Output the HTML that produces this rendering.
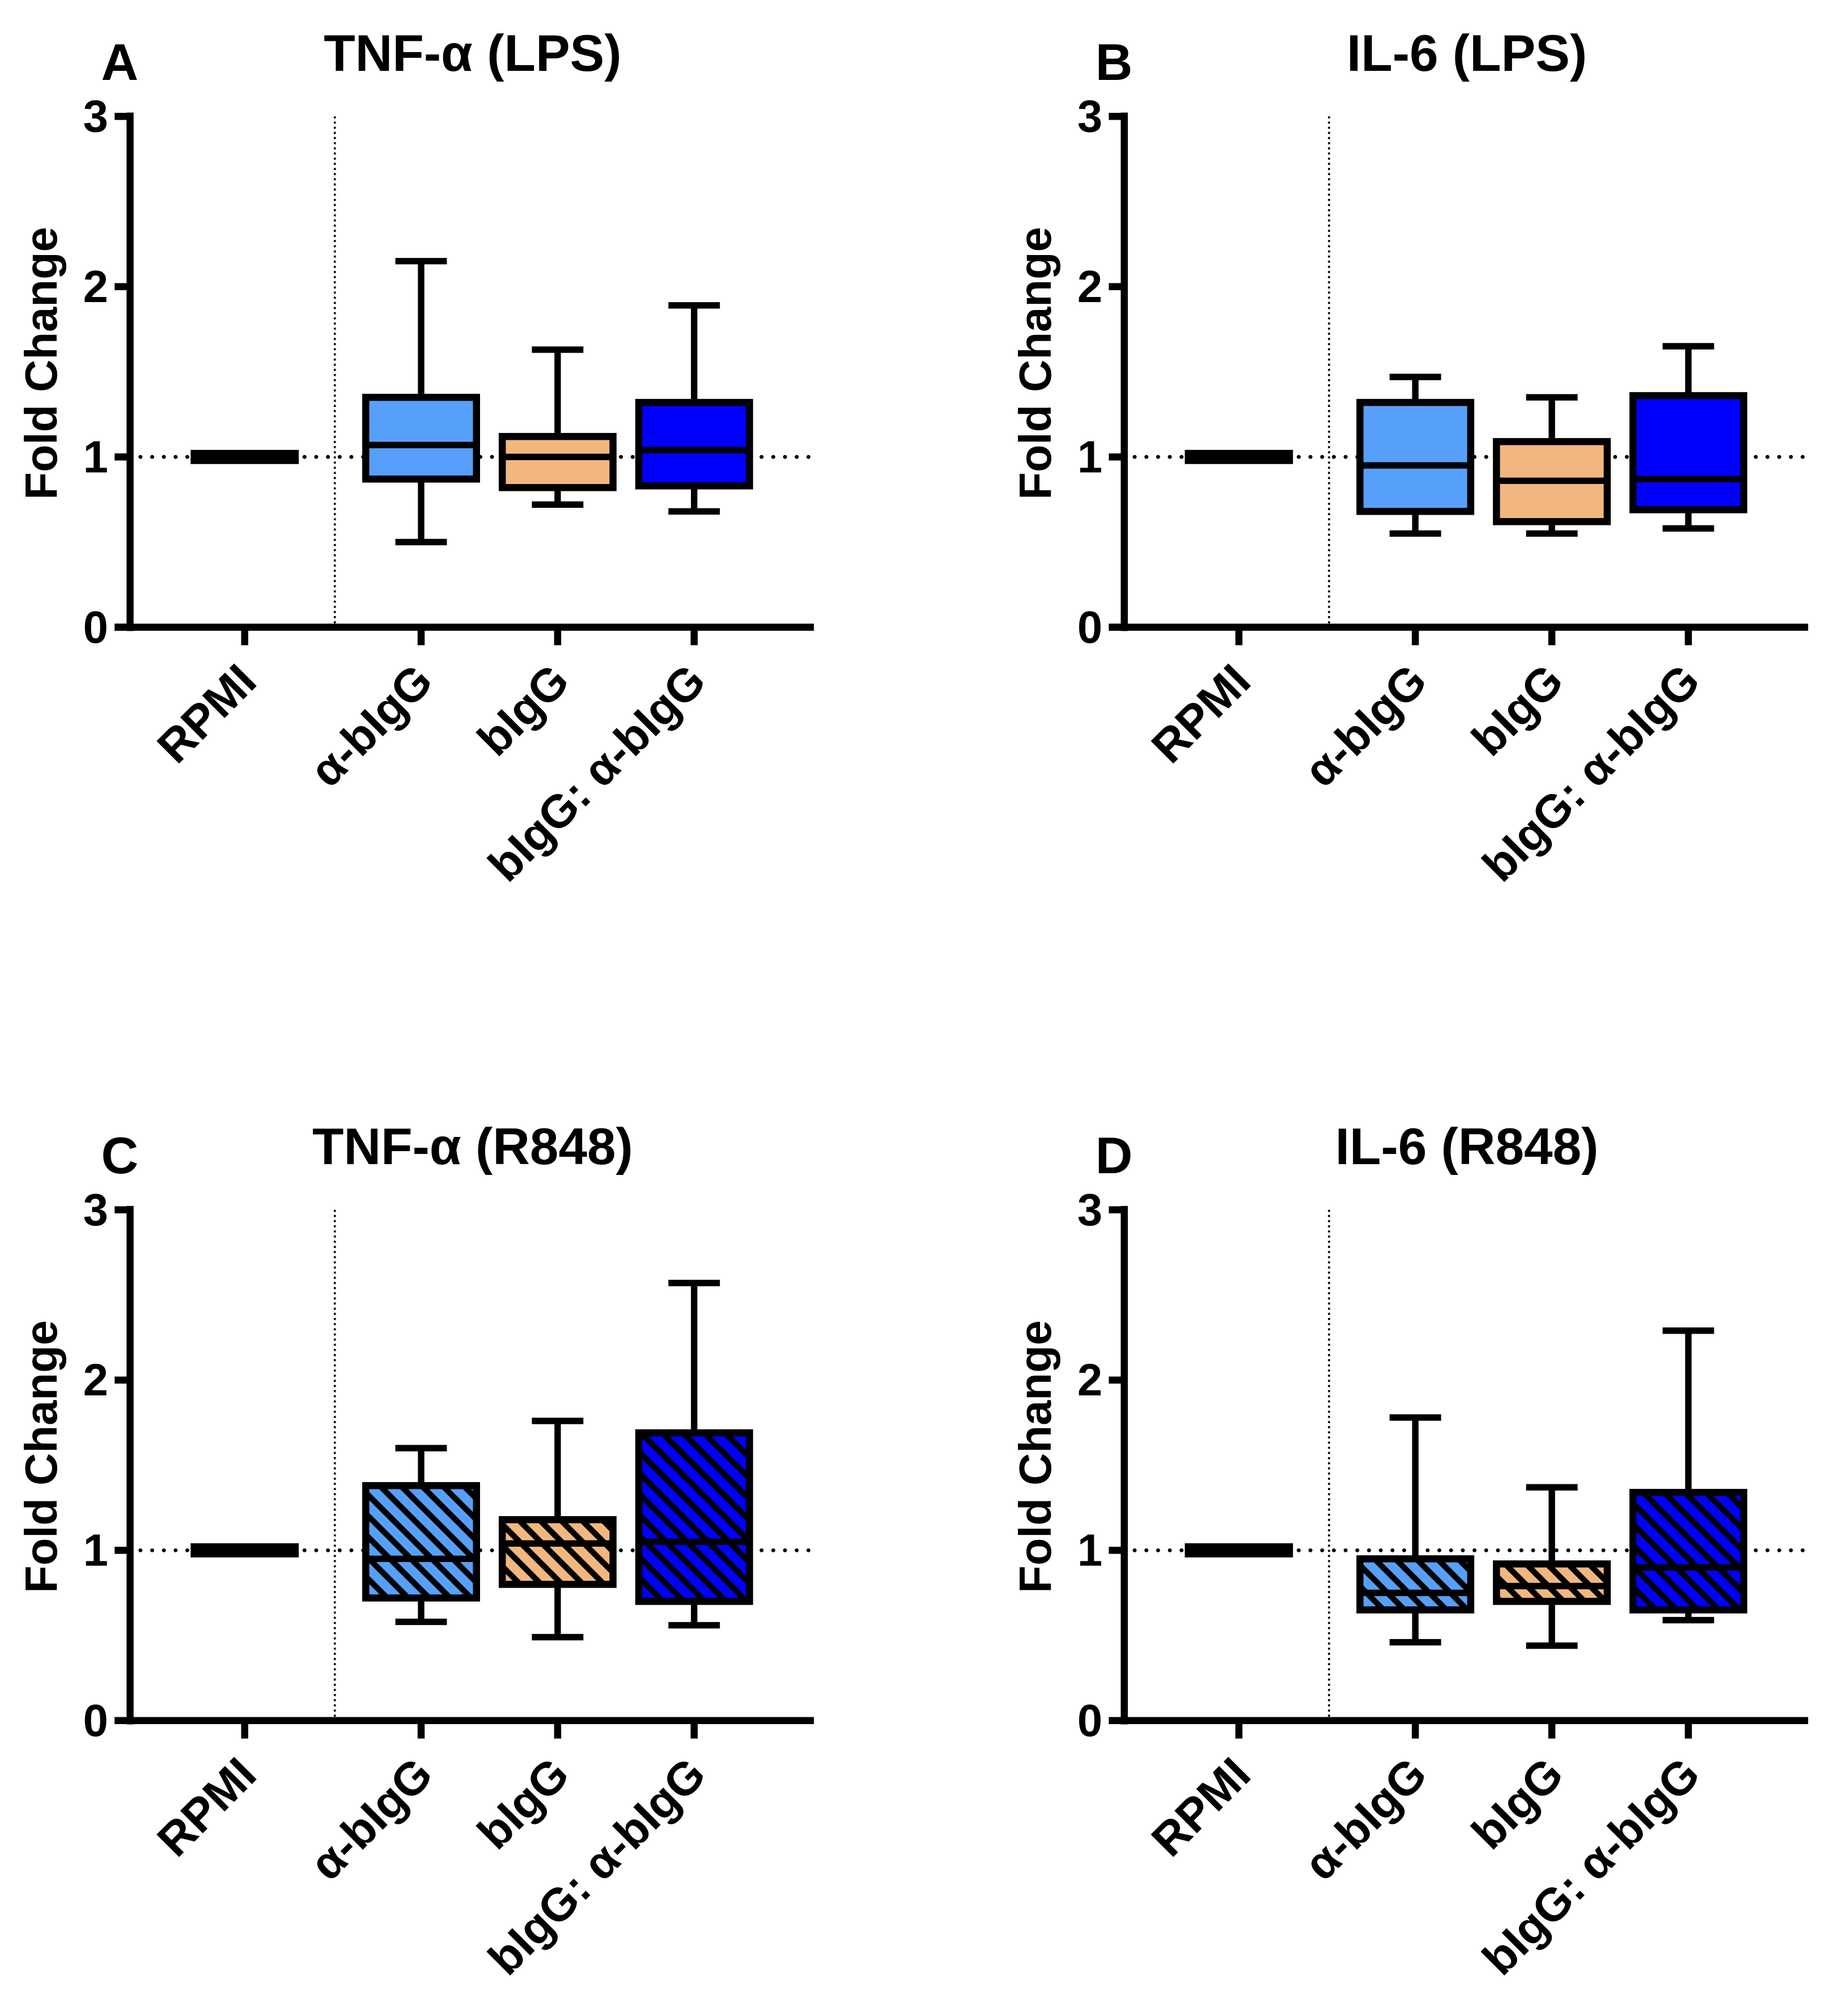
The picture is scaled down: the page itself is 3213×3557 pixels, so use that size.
<!DOCTYPE html>
<html><head><meta charset="utf-8">
<style>
html,body{margin:0;padding:0;background:#fff;}
svg{display:block;}
text{font-family:"Liberation Sans",Arial,sans-serif;font-weight:bold;fill:#000;}
</style></head>
<body>
<svg id="fig" width="3213" height="3557" viewBox="0 0 1414 1565.4" preserveAspectRatio="none" xmlns="http://www.w3.org/2000/svg">
<defs>
<pattern id="hatch" patternUnits="userSpaceOnUse" width="11.5" height="11.5" patternTransform="rotate(-45)">
<rect x="0" y="0" width="4.5" height="11.5" fill="#000"/>
</pattern>
</defs>
</svg>
<script>
const categories = ["RPMI","α-bIgG","bIgG","bIgG: α-bIgG"];
const panelTitles = ["TNF-α (LPS)","IL-6 (LPS)","TNF-α (R848)","IL-6 (R848)"];
const panelLetters = ["A","B","C","D"];
const yTicks = [0,1,2,3];
// [min, q1, median, q3, max] per treatment group (excluding RPMI = 1)
const statsA = [[0.50,0.87,1.07,1.35,2.15],[0.72,0.82,1.00,1.12,1.63],[0.68,0.83,1.04,1.32,1.89]];
const statsB = [[0.55,0.68,0.95,1.32,1.47],[0.55,0.62,0.86,1.09,1.35],[0.58,0.69,0.87,1.36,1.65]];
const statsC = [[0.58,0.72,0.95,1.38,1.60],[0.49,0.80,1.04,1.18,1.76],[0.56,0.70,1.05,1.69,2.57]];
const statsD = [[0.46,0.65,0.75,0.95,1.78],[0.44,0.70,0.79,0.92,1.37],[0.59,0.65,0.90,1.34,2.29]];
const rpmiValue = [1,1,1,1];
const colors = ["#56a0fb","#f2b77f","#0000ff"];

const svg = document.getElementById('fig');
const NS = "http://www.w3.org/2000/svg";
function mk(tag, attrs, parent){const e=document.createElementNS(NS,tag);for(const k in attrs)e.setAttribute(k,attrs[k]);(parent||svg).appendChild(e);return e;}

const panels = [
 {x0:101,y0:487,stats:statsA,hatch:false},
 {x0:873,y0:487,stats:statsB,hatch:false},
 {x0:101,y0:1336,stats:statsC,hatch:true},
 {x0:873,y0:1336,stats:statsD,hatch:true}
];
const unit = 132.2;
const catOff = [89,226,332,438];

panels.forEach((p,pi)=>{
  const g = mk('g',{});
  
  
  const Y = v => p.y0 - v*unit;
  const X = i => p.x0 + catOff[i];
  const hl = mk('line',{x1:p.x0+8,x2:p.x0+530,y1:Y(1),y2:Y(1),stroke:'#000','stroke-width':3,'stroke-dasharray':'0.1 9','stroke-linecap':'round'},g);
  
  
  const vl = mk('line',{x1:p.x0+159,x2:p.x0+159,y1:Y(3),y2:p.y0,stroke:'#000','stroke-width':1.6,'stroke-dasharray':'1.6 2.4'},g);
  
  
  const ya = mk('line',{x1:p.x0,x2:p.x0,y1:Y(3)-3,y2:p.y0+3,stroke:'#000','stroke-width':5.5},g);
  
  
  const xa = mk('line',{x1:p.x0-12,x2:p.x0+531,y1:p.y0,y2:p.y0,stroke:'#000','stroke-width':5.5},g);
  
  
  yTicks.forEach(t=>{
    const tk = mk('line',{x1:p.x0-12,x2:p.x0,y1:Y(t),y2:Y(t),stroke:'#000','stroke-width':5.5},g);
    
    
    const tl = mk('text',{x:p.x0-17,y:Y(t)+12,'text-anchor':'end','font-size':35},g);
    tl.textContent = t;
    
    
  });
  const yt = mk('text',{x:0,y:0,'text-anchor':'middle','font-size':35,transform:`translate(${p.x0-57},${Y(1.55)}) rotate(-90)`},g);
  yt.textContent = 'Fold Change';
  
  
  const ti = mk('text',{x:p.x0+266,y:p.y0-432,'text-anchor':'middle','font-size':40},g);
  ti.textContent = panelTitles[pi];
  
  
  const le = mk('text',{x:p.x0-8,y:p.y0-425,'text-anchor':'middle','font-size':40},g);
  le.textContent = panelLetters[pi];
  
  
  categories.forEach((c,i)=>{
    const xt = mk('line',{x1:X(i),x2:X(i),y1:p.y0,y2:p.y0+14,stroke:'#000','stroke-width':5.5},g);
    
    
    const cl = mk('text',{x:0,y:0,'text-anchor':'end','font-size':36,transform:`translate(${X(i)+11},${p.y0+44}) rotate(-45)`},g);
    cl.textContent = c;
    
    
  });
  const rb = mk('line',{x1:X(0)-42,x2:X(0)+42,y1:Y(rpmiValue[pi]),y2:Y(rpmiValue[pi]),stroke:'#000','stroke-width':11},g);
  
  
  p.stats.forEach((s,k)=>{
    const cx = X(k+1), w = 86, cw = 40;
    const bg = mk('g',{},g);
    
    
    mk('line',{x1:cx,x2:cx,y1:Y(s[0]),y2:Y(s[1]),stroke:'#000','stroke-width':5},bg);
    mk('line',{x1:cx,x2:cx,y1:Y(s[3]),y2:Y(s[4]),stroke:'#000','stroke-width':5},bg);
    mk('line',{x1:cx-cw/2,x2:cx+cw/2,y1:Y(s[0]),y2:Y(s[0]),stroke:'#000','stroke-width':5},bg);
    mk('line',{x1:cx-cw/2,x2:cx+cw/2,y1:Y(s[4]),y2:Y(s[4]),stroke:'#000','stroke-width':5},bg);
    mk('rect',{x:cx-w/2,y:Y(s[3]),width:w,height:Y(s[1])-Y(s[3]),fill:colors[k]},bg);
    if(p.hatch) mk('rect',{x:cx-w/2,y:Y(s[3]),width:w,height:Y(s[1])-Y(s[3]),fill:'url(#hatch)'},bg);
    mk('rect',{x:cx-w/2,y:Y(s[3]),width:w,height:Y(s[1])-Y(s[3]),fill:'none',stroke:'#000','stroke-width':5.5},bg);
    mk('line',{x1:cx-w/2,x2:cx+w/2,y1:Y(s[2]),y2:Y(s[2]),stroke:'#000','stroke-width':5},bg);
  });
});
</script>
</body></html>
